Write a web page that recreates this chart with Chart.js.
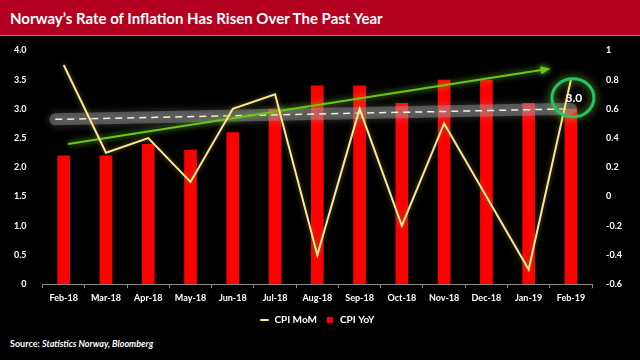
<!DOCTYPE html>
<html>
<head>
<meta charset="utf-8">
<script src="https://cdn.jsdelivr.net/npm/chart.js@4"></script>
<style>
  html, body { margin: 0; padding: 0; background: #000; width: 640px; height: 360px; overflow: hidden; }
  #title { position: absolute; left: 0; top: 0; width: 640px; height: 36px; background: #b3001e;
           border-bottom: 1px solid #d85a6a; box-sizing: border-box; }
  #title span { position: absolute; left: 10px; top: 9px; color: #fff; font: bold 15px Lato, sans-serif; }
  #wrap { position: absolute; left: 0; top: 37px; width: 640px; height: 300px; }
  #source { position: absolute; left: 10px; top: 338px; color: #fff; font: bold 9px Lato, sans-serif; }
  #source i { font-weight: bold; }
</style>
</head>
<body>
<div id="title"><span>Norway’s Rate of Inflation Has Risen Over The Past Year</span></div>
<div id="wrap"><canvas id="c" width="640" height="300"></canvas></div>
<div id="source">Source: <i>Statistics Norway, Bloomberg</i></div>
<script>
// months on the x axis
const months = ["Feb-18", "Mar-18", "Apr-18", "May-18", "Jun-18", "Jul-18", "Aug-18",
                "Sep-18", "Oct-18", "Nov-18", "Dec-18", "Jan-19", "Feb-19"];
// CPI year over year (left axis)
const cpiYoY = [2.2, 2.2, 2.4, 2.3, 2.6, 3.0, 3.4, 3.4, 3.1, 3.5, 3.5, 3.1, 3.0];
// CPI month over month (right axis)
const cpiMoM = [0.9, 0.3, 0.4, 0.1, 0.6, 0.7, -0.4, 0.6, -0.2, 0.5, 0.0, -0.5, 0.8];
// hand drawn marks: [x index, left axis value]
const dashStart = [-0.2, 2.82];
const dashEnd = [12, 3.0];
const arrowStart = [0.1, 2.4];
const arrowEnd = [11.45, 3.68];

const overlay = {
  id: "overlay",
  afterDatasetDraw(chart, args) {
    if (args.index !== 0) return;
    const ctx = chart.ctx;
    const x = chart.scales.x, y = chart.scales.y;
    const px = i => x.getPixelForValue(0) + i * (x.getPixelForValue(1) - x.getPixelForValue(0));

    // grey glow band + dashed average line
    ctx.save();
    ctx.lineCap = "round";
    ctx.strokeStyle = "rgba(150,150,150,0.45)";
    ctx.shadowColor = "rgba(200,200,200,0.6)";
    ctx.shadowBlur = 8;
    ctx.lineWidth = 12;
    ctx.beginPath();
    ctx.moveTo(px(dashStart[0]), y.getPixelForValue(dashStart[1]));
    ctx.lineTo(px(dashEnd[0]), y.getPixelForValue(dashEnd[1]));
    ctx.stroke();
    ctx.shadowBlur = 0;
    ctx.lineCap = "butt";
    ctx.setLineDash([7, 5]);
    ctx.lineWidth = 1.5;
    ctx.strokeStyle = "#f3f0e0";
    ctx.stroke();
    ctx.restore();

    // green trend arrow
    const ax0 = px(arrowStart[0]), ay0 = y.getPixelForValue(arrowStart[1]);
    const ax1 = px(arrowEnd[0]), ay1 = y.getPixelForValue(arrowEnd[1]);
    ctx.save();
    ctx.strokeStyle = "#6cc51c";
    ctx.fillStyle = "#6cc51c";
    ctx.shadowColor = "rgba(120,220,40,0.9)";
    ctx.shadowBlur = 6;
    ctx.lineWidth = 2;
    ctx.beginPath();
    ctx.moveTo(ax0, ay0);
    ctx.lineTo(ax1, ay1);
    ctx.stroke();
    const ang = Math.atan2(ay1 - ay0, ax1 - ax0);
    ctx.beginPath();
    ctx.moveTo(ax1 + 3 * Math.cos(ang), ay1 + 3 * Math.sin(ang));
    ctx.lineTo(ax1 - 7 * Math.cos(ang) - 4 * Math.sin(ang), ay1 - 7 * Math.sin(ang) + 4 * Math.cos(ang));
    ctx.lineTo(ax1 - 7 * Math.cos(ang) + 4 * Math.sin(ang), ay1 - 7 * Math.sin(ang) - 4 * Math.cos(ang));
    ctx.closePath();
    ctx.fill();
    ctx.restore();
  },
  afterDatasetsDraw(chart) {
    const ctx = chart.ctx;
    const x = chart.scales.x, y = chart.scales.y;
    const last = cpiYoY.length - 1;
    const cx = x.getPixelForValue(last) + 2;
    const cy = y.getPixelForValue(cpiYoY[last]) - 11;
    ctx.save();
    ctx.strokeStyle = "#22c46a";
    ctx.shadowColor = "rgba(140,220,60,0.9)";
    ctx.shadowBlur = 8;
    ctx.lineWidth = 3;
    ctx.beginPath();
    ctx.ellipse(cx, cy, 21, 19, 0, 0, Math.PI * 2);
    ctx.stroke();
    ctx.shadowBlur = 0;
    ctx.fillStyle = "#fff";
    ctx.font = "bold 12px Lato, sans-serif";
    ctx.textAlign = "center";
    ctx.textBaseline = "middle";
    ctx.fillText(cpiYoY[last].toFixed(1), cx + 1, cy);
    ctx.restore();
  }
};

const lineGlow = {
  id: "lineGlow",
  beforeDatasetDraw(chart, args) {
    if (args.index !== 1) return;
    chart.ctx.save();
    chart.ctx.shadowColor = "rgba(120,110,60,0.9)";
    chart.ctx.shadowBlur = 5;
  },
  afterDatasetDraw(chart, args) {
    if (args.index !== 1) return;
    chart.ctx.restore();
  }
};

const tickFont = { family: "Lato, sans-serif", size: 9, weight: "bold" };

new Chart(document.getElementById("c"), {
  data: {
    labels: months,
    datasets: [
      {
        type: "bar",
        label: "CPI YoY",
        data: cpiYoY,
        backgroundColor: "#ff0000",
        yAxisID: "y",
        order: 1,
        barPercentage: 0.6,
        categoryPercentage: 0.5,
        pointStyle: "rect"
      },
      {
        type: "line",
        label: "CPI MoM",
        data: cpiMoM,
        borderColor: "#fbe78e",
        backgroundColor: "#fbe78e",
        borderWidth: 2,
        pointRadius: 0,
        tension: 0,
        yAxisID: "y1",
        order: 0,
        pointStyle: "line"
      }
    ]
  },
  options: {
    responsive: false,
    animation: false,
    layout: { padding: { top: 9, left: 6, right: 12, bottom: 2 } },
    plugins: {
      tooltip: { enabled: false },
      legend: {
        position: "bottom",
        labels: {
          color: "#fff",
          font: { family: "Lato, sans-serif", size: 10, weight: "bold" },
          usePointStyle: true,
          boxWidth: 14,
          boxHeight: 6,
          padding: 8
        }
      }
    },
    scales: {
      x: {
        grid: { display: true, drawOnChartArea: false, color: "#888", tickLength: 4, offset: true },
        border: { display: true, color: "#888" },
        ticks: { color: "#fff", font: tickFont, padding: 4 }
      },
      y: {
        position: "left",
        min: 0,
        max: 4,
        ticks: { stepSize: 0.5, color: "#fff", font: tickFont, padding: 8 },
        grid: { display: false },
        border: { display: false }
      },
      y1: {
        position: "right",
        min: -0.6,
        max: 1,
        ticks: {
          stepSize: 0.2, color: "#fff", font: tickFont, padding: 6,
          callback: v => Math.round(v * 10) / 10
        },
        grid: { display: false },
        border: { display: false }
      }
    }
  },
  plugins: [overlay, lineGlow]
});
</script>
</body>
</html>
